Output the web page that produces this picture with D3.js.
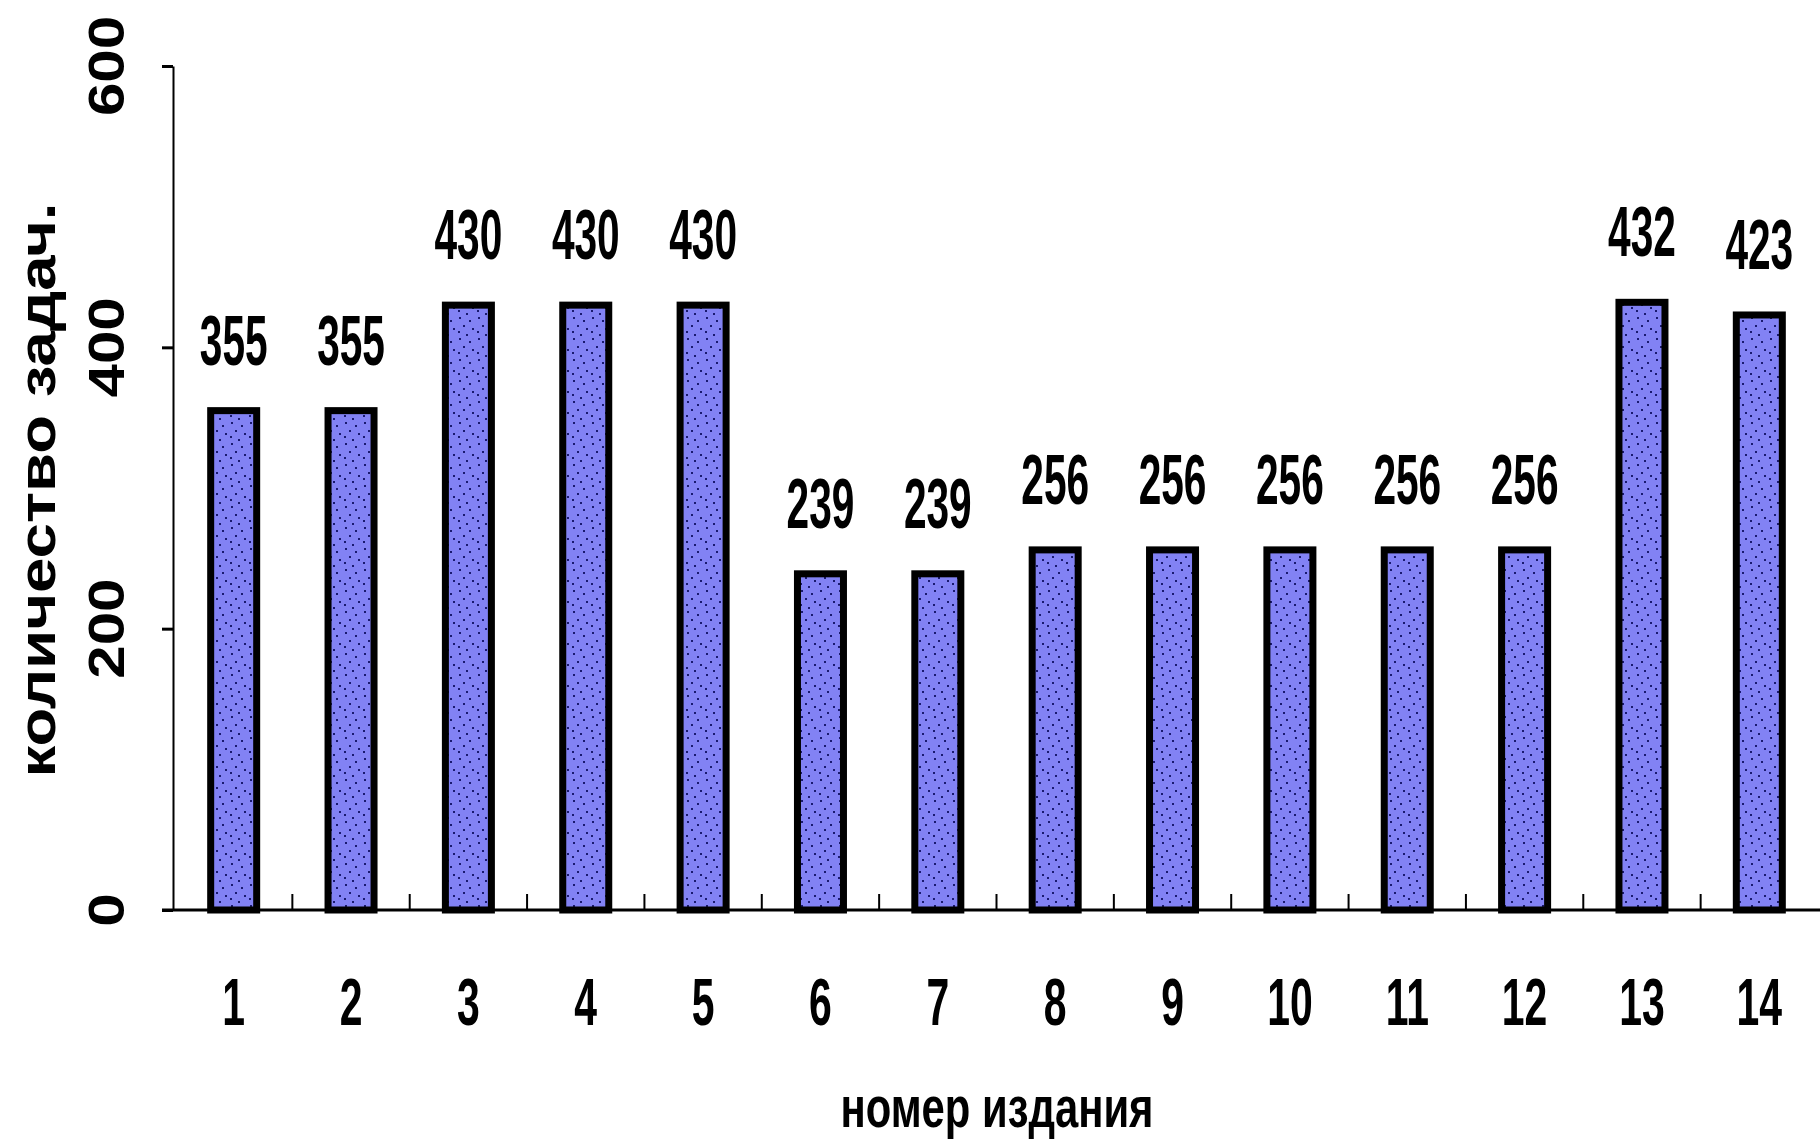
<!DOCTYPE html>
<html>
<head>
<meta charset="utf-8">
<script src="https://cdn.jsdelivr.net/npm/d3@7"></script>
<style>
  html, body { margin: 0; padding: 0; background: #fff; }
  svg { display: block; }
  text { font-family: "Liberation Sans", Arial, sans-serif; fill: #000; }
</style>
</head>
<body>
<svg id="chart" width="1820" height="1144"></svg>
<script>
// Editions and the number of problems in each
const editions = ["1","2","3","4","5","6","7","8","9","10","11","12","13","14"];
const problems = [355, 355, 430, 430, 430, 239, 239, 256, 256, 256, 256, 256, 432, 423];
const yTicks = [0, 200, 400, 600];
const yTitle = "количество задач.";
const xTitle = "номер издания";

const svg = d3.select("#chart");
const W = 1820, H = 1144;
svg.append("rect").attr("width", W).attr("height", H).attr("fill", "#fff");

const plot = { left: 175, right: 1818, top: 66, bottom: 910, axisX: 173 };

const x = d3.scaleBand()
  .domain(editions)
  .range([plot.left, plot.right])
  .paddingInner(0.608)
  .paddingOuter(0.304);

const y = d3.scaleLinear()
  .domain([0, 600])
  .range([plot.bottom, plot.top]);

// stippled fill used inside the bars
const defs = svg.append("defs");
const pat = defs.append("pattern")
  .attr("id", "stipple")
  .attr("patternUnits", "userSpaceOnUse")
  .attr("width", 19).attr("height", 21);
pat.append("rect").attr("width", 19).attr("height", 21).attr("fill", "#8282f4");
const dots = [[3,2],[13,5],[7,10],[16,13],[2,16],[10,19]];
pat.selectAll("rect.d").data(dots).join("rect")
  .attr("class", "d")
  .attr("x", d => d[0]).attr("y", d => d[1])
  .attr("width", 2).attr("height", 2)
  .attr("fill", "#1a1a70");

// bars
svg.append("g").selectAll("rect").data(editions).join("rect")
  .attr("x", d => x(d))
  .attr("y", (d, i) => y(problems[i]))
  .attr("width", x.bandwidth())
  .attr("height", (d, i) => y(0) - y(problems[i]))
  .attr("fill", "url(#stipple)")
  .attr("stroke", "#000")
  .attr("stroke-width", 7);

// value labels above the bars
svg.append("g").selectAll("text").data(editions).join("text")
  .attr("transform", (d, i) =>
    `translate(${x(d) + x.bandwidth() / 2},${y(problems[i]) - 46}) scale(0.58,1)`)
  .attr("text-anchor", "middle")
  .attr("font-size", 70)
  .attr("font-weight", "bold")
  .text((d, i) => problems[i]);

// y axis: line and left-pointing ticks
const yAxis = d3.axisLeft(y).tickValues(yTicks).tickFormat("").tickSize(11).tickSizeOuter(0);
const gy = svg.append("g").attr("transform", `translate(${plot.axisX},0)`).call(yAxis);
gy.select(".domain").attr("stroke", "#000").attr("stroke-width", 2);
gy.selectAll(".tick line").attr("stroke", "#000").attr("stroke-width", 3);

// y tick labels, rotated
svg.append("g").selectAll("text").data(yTicks).join("text")
  .attr("transform", d => `translate(107,${y(d)}) rotate(-90) scale(1.2,1)`)
  .attr("text-anchor", "middle")
  .attr("dominant-baseline", "central")
  .attr("font-size", 50)
  .attr("font-weight", "bold")
  .text(d => d);

// x axis baseline
const xAxis = d3.axisBottom(x).tickSize(0).tickFormat("");
const gx = svg.append("g").attr("transform", `translate(0,${plot.bottom})`).call(xAxis);
gx.select(".domain").attr("d", `M162,0H${W}`).attr("stroke", "#000").attr("stroke-width", 3);

// small upward ticks between the bars
const gap = x.step() - x.bandwidth();
svg.append("g").selectAll("line").data(editions.slice(1)).join("line")
  .attr("x1", d => x(d) - gap / 2).attr("x2", d => x(d) - gap / 2)
  .attr("y1", plot.bottom).attr("y2", plot.bottom - 16)
  .attr("stroke", "#000").attr("stroke-width", 2);

// edition numbers under the axis
svg.append("g").selectAll("text").data(editions).join("text")
  .attr("transform", d => `translate(${x(d) + x.bandwidth() / 2},1025) scale(0.62,1)`)
  .attr("text-anchor", "middle")
  .attr("font-size", 66)
  .attr("font-weight", "bold")
  .text(d => d);

// axis titles
svg.append("text")
  .attr("transform", `translate(997,1127)`)
  .attr("text-anchor", "middle")
  .attr("font-size", 58)
  .attr("font-weight", "bold")
  .attr("textLength", 313)
  .attr("lengthAdjust", "spacingAndGlyphs")
  .text(xTitle);

svg.append("text")
  .attr("transform", `translate(55,${(plot.top + plot.bottom) / 2 + 2}) rotate(-90)`)
  .attr("text-anchor", "middle")
  .attr("font-size", 52)
  .attr("font-weight", "bold")
  .attr("textLength", 575)
  .attr("lengthAdjust", "spacingAndGlyphs")
  .text(yTitle);
</script>
</body>
</html>
